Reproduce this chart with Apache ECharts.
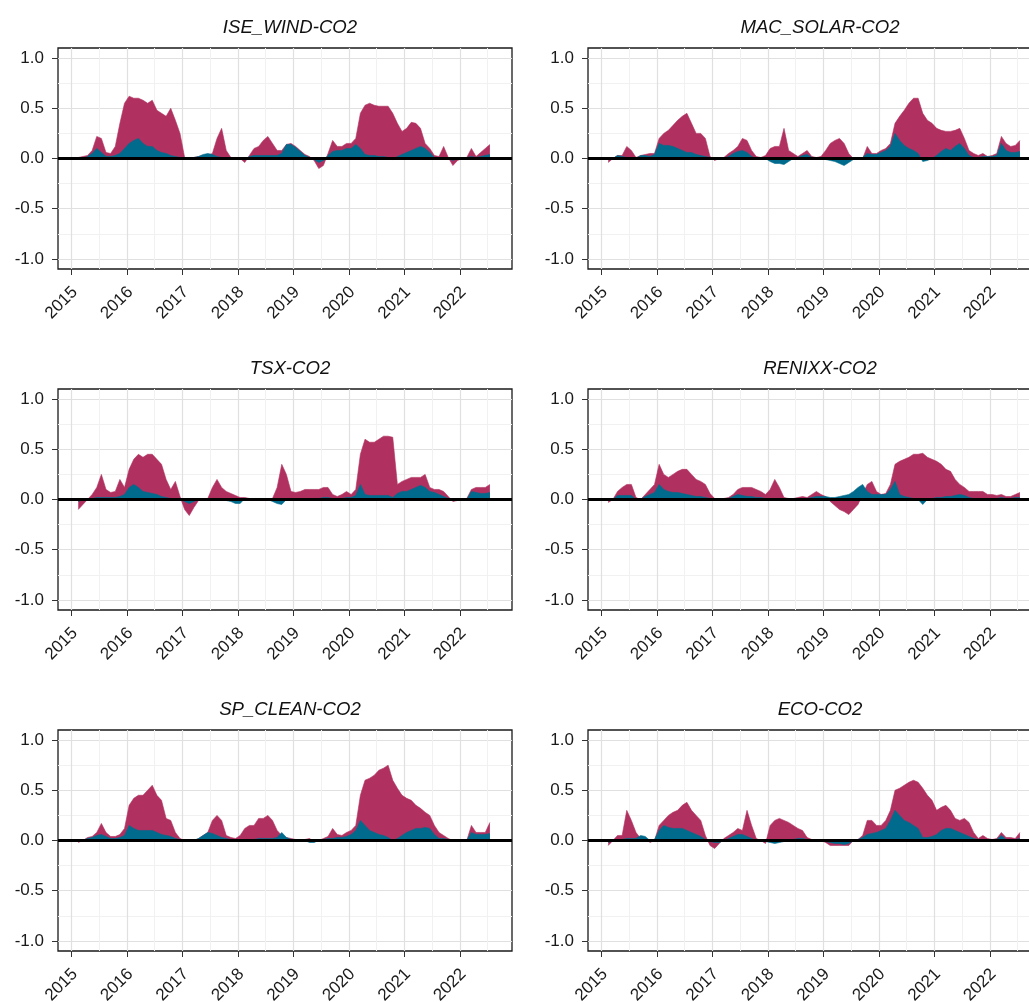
<!DOCTYPE html>
<html><head><meta charset="utf-8">
<script src="https://cdn.jsdelivr.net/npm/echarts@6/dist/echarts.min.js"></script>
<style>html,body{margin:0;padding:0;background:#fff}#c{width:1029px;height:1002px}</style>
</head><body><div id="c"></div>
<script>
// ---------- DATA ----------
const panelTitles = ['ISE_WIND-CO2','MAC_SOLAR-CO2','TSX-CO2','RENIXX-CO2','SP_CLEAN-CO2','ECO-CO2'];
const yearTicks = [2015,2016,2017,2018,2019,2020,2021,2022];
const yTicks = [-1,-0.5,0,0.5,1];
const months = [
 '2015-02','2015-03','2015-04','2015-05','2015-06','2015-07','2015-08','2015-09','2015-10','2015-11','2015-12',
 '2016-01','2016-02','2016-03','2016-04','2016-05','2016-06','2016-07','2016-08','2016-09','2016-10','2016-11','2016-12',
 '2017-01','2017-02','2017-03','2017-04','2017-05','2017-06','2017-07','2017-08','2017-09','2017-10','2017-11','2017-12',
 '2018-01','2018-02','2018-03','2018-04','2018-05','2018-06','2018-07','2018-08','2018-09','2018-10','2018-11','2018-12',
 '2019-01','2019-02','2019-03','2019-04','2019-05','2019-06','2019-07','2019-08','2019-09','2019-10','2019-11','2019-12',
 '2020-01','2020-02','2020-03','2020-04','2020-05','2020-06','2020-07','2020-08','2020-09','2020-10','2020-11','2020-12',
 '2021-01','2021-02','2021-03','2021-04','2021-05','2021-06','2021-07','2021-08','2021-09','2021-10','2021-11','2021-12',
 '2022-01','2022-02','2022-03','2022-04','2022-05','2022-06','2022-07'
];
// red (total) and teal (component) for each panel
const iseWindRed = [
 0.01,0.02,0.03,0.08,0.22,0.2,0.06,0.05,0.12,0.35,0.55,
 0.62,0.6,0.6,0.58,0.55,0.58,0.48,0.45,0.42,0.5,0.38,0.25,
 0.01,0.01,0.01,0.02,0.03,0.03,0.05,0.2,0.3,0.08,0.01,0.01,
 0.0,-0.04,0.03,0.1,0.12,0.18,0.22,0.15,0.08,0.08,0.14,0.15,
 0.12,0.08,0.04,0.02,-0.02,-0.1,-0.07,0.05,0.18,0.12,0.12,0.15,
 0.15,0.2,0.45,0.53,0.55,0.53,0.52,0.52,0.52,0.45,0.35,0.27,
 0.3,0.36,0.35,0.3,0.15,0.1,0.03,0.02,0.12,0.01,-0.07,-0.02,
 0.0,0.01,0.1,0.02,0.06,0.1,0.14];
const iseWindTeal = [
 0.0,-0.01,0.02,0.05,0.1,0.06,0.02,0.02,0.03,0.05,0.1,
 0.15,0.18,0.2,0.15,0.12,0.12,0.08,0.06,0.05,0.03,0.02,0.01,
 0.0,0.01,0.01,0.02,0.04,0.05,0.04,0.02,0.01,0.0,0.0,0.0,
 0.01,-0.01,0.02,0.03,0.03,0.03,0.03,0.03,0.03,0.05,0.14,0.14,
 0.11,0.07,0.03,0.01,-0.01,-0.04,-0.02,0.03,0.07,0.08,0.08,0.1,
 0.1,0.14,0.1,0.04,0.03,0.03,0.02,0.02,0.01,-0.01,0.02,0.04,
 0.06,0.08,0.1,0.12,0.1,0.06,0.01,0.01,0.01,0.0,-0.02,0.0,
 0.0,0.01,0.02,0.01,0.02,0.03,0.04];
const macSolarRed = [
 -0.04,0.0,0.03,0.03,0.12,0.08,0.01,0.03,0.04,0.05,0.05,
 0.2,0.25,0.28,0.33,0.38,0.42,0.45,0.35,0.25,0.25,0.2,0.02,
 -0.02,0.0,0.01,0.05,0.08,0.12,0.2,0.18,0.08,0.02,0.01,0.03,
 0.1,0.12,0.12,0.3,0.08,0.05,0.02,0.05,0.08,0.02,0.01,0.02,
 0.08,0.15,0.18,0.2,0.15,0.05,0.0,-0.01,0.0,0.12,0.05,0.05,
 0.08,0.1,0.15,0.35,0.42,0.48,0.55,0.6,0.6,0.45,0.38,0.35,
 0.3,0.28,0.27,0.27,0.28,0.3,0.2,0.08,0.05,0.03,0.05,0.02,
 0.03,0.05,0.22,0.15,0.12,0.13,0.18];
const macSolarTeal = [
 -0.01,0.0,0.03,0.02,0.01,0.01,0.0,0.03,0.03,0.02,0.04,
 0.15,0.13,0.13,0.12,0.1,0.08,0.06,0.06,0.04,0.03,0.02,0.01,
 0.0,0.0,0.0,0.02,0.05,0.07,0.08,0.06,0.02,0.0,0.0,0.0,
 -0.03,-0.05,-0.05,-0.06,-0.03,0.0,0.01,0.03,0.04,0.01,0.0,0.0,
 -0.01,-0.02,-0.03,-0.05,-0.07,-0.04,-0.01,0.0,0.01,0.05,0.04,0.04,
 0.06,0.08,0.12,0.25,0.18,0.13,0.1,0.08,0.05,-0.03,-0.02,0.0,
 0.03,0.07,0.1,0.08,0.12,0.15,0.1,0.03,0.01,0.01,0.02,0.02,
 0.02,0.03,0.15,0.08,0.06,0.06,0.07];
const tsxRed = [
 -0.1,-0.05,0.0,0.05,0.12,0.25,0.1,0.07,0.08,0.2,0.12,
 0.3,0.4,0.45,0.42,0.45,0.45,0.4,0.35,0.2,0.1,0.18,0.03,
 -0.1,-0.16,-0.08,-0.01,0.0,0.01,0.12,0.2,0.12,0.08,0.06,0.04,
 0.02,0.02,0.01,0.01,0.01,0.01,0.0,0.01,0.12,0.35,0.25,0.08,
 0.07,0.08,0.1,0.1,0.1,0.1,0.12,0.12,0.05,0.03,0.05,0.08,
 0.05,0.1,0.45,0.6,0.57,0.57,0.6,0.63,0.63,0.62,0.15,0.18,
 0.2,0.22,0.22,0.22,0.25,0.12,0.1,0.1,0.08,0.03,-0.02,-0.01,
 0.0,0.01,0.1,0.12,0.12,0.12,0.15];
const tsxTeal = [
 -0.02,0.0,0.0,0.01,0.02,0.02,0.02,0.02,0.02,0.03,0.05,
 0.12,0.15,0.12,0.08,0.07,0.06,0.05,0.03,0.02,0.01,0.0,0.0,
 -0.02,-0.04,-0.02,0.0,0.0,0.0,0.01,0.01,0.0,-0.01,-0.02,-0.04,
 -0.04,0.01,0.01,0.0,0.0,0.0,0.0,-0.02,-0.04,-0.05,0.0,0.01,
 0.0,0.0,0.0,-0.01,0.01,0.01,0.02,0.02,0.01,0.01,0.01,0.02,
 0.02,0.04,0.15,0.05,0.04,0.04,0.04,0.04,0.04,0.02,0.06,0.08,
 0.08,0.1,0.12,0.14,0.12,0.08,0.07,0.05,0.03,0.01,0.0,0.0,
 0.0,0.0,0.08,0.07,0.06,0.06,0.07];
const renixxRed = [
 -0.03,0.0,0.08,0.12,0.15,0.15,0.02,0.0,0.05,0.1,0.15,
 0.35,0.25,0.22,0.25,0.28,0.3,0.3,0.25,0.2,0.18,0.15,0.06,
 0.01,0.0,0.01,0.02,0.05,0.1,0.12,0.12,0.12,0.1,0.08,0.05,
 0.1,0.2,0.12,0.02,0.01,0.01,0.02,0.03,0.02,0.05,0.08,0.05,
 0.03,-0.02,-0.06,-0.1,-0.12,-0.15,-0.1,-0.05,0.05,0.15,0.18,0.08,
 0.05,0.06,0.15,0.35,0.38,0.4,0.42,0.45,0.45,0.46,0.42,0.4,
 0.38,0.35,0.3,0.28,0.2,0.15,0.12,0.08,0.08,0.08,0.08,0.05,
 0.05,0.04,0.05,0.03,0.03,0.05,0.07];
const renixxTeal = [
 -0.01,0.0,0.04,0.04,0.04,0.04,0.0,0.0,0.03,0.05,0.07,
 0.15,0.1,0.08,0.07,0.07,0.06,0.05,0.04,0.03,0.03,0.02,0.01,
 0.0,0.0,0.01,0.01,0.03,0.05,0.04,0.03,0.03,0.02,0.02,0.01,
 0.0,0.0,-0.01,0.0,0.0,0.0,0.0,0.01,0.01,0.02,0.03,0.03,
 0.03,0.02,0.02,0.03,0.04,0.05,0.08,0.12,0.15,0.08,0.05,0.05,
 0.05,0.05,0.1,0.18,0.05,0.03,0.02,0.01,0.0,-0.05,0.0,0.01,
 0.02,0.02,0.03,0.03,0.04,0.05,0.04,0.02,0.01,0.01,0.01,0.01,
 0.01,0.01,0.02,0.01,0.01,0.02,0.02];
const spCleanRed = [
 -0.02,0.0,0.03,0.04,0.08,0.17,0.08,0.04,0.04,0.06,0.12,
 0.35,0.42,0.45,0.45,0.5,0.55,0.45,0.4,0.22,0.2,0.08,0.02,
 0.0,0.0,0.0,0.02,0.05,0.08,0.2,0.25,0.2,0.05,0.03,0.02,
 0.05,0.12,0.15,0.15,0.22,0.22,0.25,0.2,0.1,0.05,0.03,0.02,
 0.01,0.0,0.01,0.02,-0.01,0.0,0.02,0.04,0.12,0.06,0.05,0.08,
 0.1,0.15,0.45,0.6,0.62,0.65,0.7,0.72,0.75,0.6,0.52,0.45,
 0.42,0.4,0.35,0.32,0.28,0.25,0.15,0.08,0.05,0.02,0.0,0.0,
 0.0,0.0,0.15,0.08,0.08,0.08,0.18];
const spCleanTeal = [
 -0.01,0.0,0.02,0.03,0.05,0.06,0.04,0.02,0.02,0.03,0.05,
 0.15,0.12,0.1,0.1,0.1,0.1,0.08,0.06,0.05,0.04,0.02,0.01,
 0.0,0.0,0.0,0.02,0.05,0.08,0.07,0.05,0.03,0.02,0.01,0.01,
 -0.01,0.01,0.01,0.01,0.02,0.02,0.02,0.02,0.03,0.08,0.03,0.01,
 0.0,0.0,0.0,-0.02,-0.02,0.0,0.01,0.02,0.02,0.03,0.03,0.04,
 0.06,0.1,0.2,0.15,0.1,0.08,0.06,0.05,0.03,0.0,0.02,0.05,
 0.08,0.1,0.12,0.12,0.13,0.12,0.06,0.02,0.02,0.01,0.0,0.0,
 0.0,0.0,0.08,0.06,0.06,0.06,0.07];
const ecoRed = [
 -0.05,0.0,0.05,0.05,0.3,0.2,0.08,0.02,0.03,-0.02,0.0,
 0.15,0.2,0.25,0.28,0.3,0.35,0.38,0.3,0.25,0.2,0.05,-0.05,
 -0.08,-0.03,0.02,0.05,0.08,0.12,0.1,0.3,0.15,0.02,0.0,-0.03,
 0.15,0.2,0.22,0.2,0.18,0.15,0.12,0.1,0.03,0.01,0.0,0.0,
 -0.02,-0.05,-0.05,-0.05,-0.05,-0.05,0.0,0.01,0.05,0.2,0.2,0.15,
 0.15,0.2,0.3,0.5,0.52,0.55,0.58,0.6,0.58,0.52,0.45,0.4,
 0.3,0.33,0.35,0.3,0.22,0.2,0.22,0.18,0.08,0.02,0.05,0.02,
 0.01,0.02,0.08,0.03,0.03,0.02,0.08];
const ecoTeal = [
 -0.02,0.0,0.01,0.01,0.02,0.02,0.02,0.05,0.04,0.0,0.01,
 0.1,0.15,0.13,0.12,0.12,0.12,0.1,0.08,0.06,0.04,0.01,-0.01,
 -0.02,-0.02,0.0,0.02,0.04,0.06,0.06,0.04,0.02,0.0,0.0,-0.01,
 -0.02,-0.03,-0.02,-0.01,0.0,0.01,0.02,0.02,0.01,0.0,0.0,0.0,
 -0.01,-0.02,-0.03,-0.03,-0.04,-0.03,0.0,0.01,0.03,0.06,0.07,0.08,
 0.1,0.12,0.2,0.3,0.25,0.2,0.18,0.15,0.12,0.03,0.03,0.04,
 0.06,0.1,0.12,0.12,0.1,0.08,0.06,0.04,0.02,0.01,0.01,0.01,
 0.0,0.01,0.05,0.01,0.01,0.01,0.02];

const panelRed = [iseWindRed, macSolarRed, tsxRed, renixxRed, spCleanRed, ecoRed];
const panelTeal = [iseWindTeal, macSolarTeal, tsxTeal, renixxTeal, spCleanTeal, ecoTeal];

// ---------- CHART ----------
const RED = '#b03060', TEAL = '#006b8c';
const FONT = 'Liberation Sans, Arial, sans-serif';
const gLeft = [58, 588], gTop = [48, 389, 730], gW = 454, gH = 221;
const tCenter = [285, 815], tTop = [13, 354, 695];
const xMin = 2014.76, xMax = 2022.94, yMin = -1.1, yMax = 1.1;
const minorX = [2015.5,2016.5,2017.5,2018.5,2019.5,2020.5,2021.5,2022.5];
const minorY = [-0.75,-0.25,0.25,0.75];
const xs = months.map(s => { const [y, m] = s.split('-').map(Number); return y + (m - 0.5) / 12; });

const grids = [], xAxes = [], yAxes = [], series = [], titles = [];
for (let p = 0; p < 6; p++) {
  const col = p % 2, row = Math.floor(p / 2);
  grids.push({left: gLeft[col], top: gTop[row], width: gW, height: gH, show: true,
    borderColor: '#1a1a1a', borderWidth: 1.3, backgroundColor: 'transparent',
    containLabel: false, outerBoundsMode: 'none'});
  titles.push({text: panelTitles[p], left: tCenter[col], top: tTop[row], textAlign: 'center',
    textStyle: {fontFamily: FONT, fontSize: 18.6, fontStyle: 'italic', fontWeight: 'normal', color: '#111'}});
  // major x
  xAxes.push({type: 'value', gridIndex: p, min: xMin, max: xMax, position: 'bottom',
    axisLine: {show: false, onZero: false},
    axisTick: {show: true, customValues: yearTicks, length: 6, lineStyle: {color: '#333', width: 1}},
    axisLabel: {show: true, customValues: yearTicks, rotate: 45, margin: 24, fontSize: 17,
      padding: [0, -5, 0, 0],
      fontFamily: FONT, color: '#1a1a1a', formatter: v => String(Math.round(v))},
    splitLine: {show: true, lineStyle: {color: '#e0e0e0', width: 1.2}}});
  // minor x
  xAxes.push({type: 'value', gridIndex: p, min: xMin, max: xMax, position: 'top',
    axisLine: {show: false, onZero: false}, axisTick: {show: false, customValues: minorX},
    axisLabel: {show: false, customValues: minorX},
    splitLine: {show: true, lineStyle: {color: '#f1f1f1', width: 1}}});
  yAxes.push({type: 'value', gridIndex: p, min: yMin, max: yMax, position: 'left',
    axisLine: {show: false, onZero: false},
    axisTick: {show: true, customValues: yTicks, length: 6, lineStyle: {color: '#333', width: 1}},
    axisLabel: {show: true, customValues: yTicks, margin: 14, fontSize: 17, fontFamily: FONT,
      color: '#1a1a1a', formatter: v => v.toFixed(1)},
    splitLine: {show: true, lineStyle: {color: '#e0e0e0', width: 1.2}}});
  yAxes.push({type: 'value', gridIndex: p, min: yMin, max: yMax, position: 'right',
    axisLine: {show: false, onZero: false}, axisTick: {show: false, customValues: minorY},
    axisLabel: {show: false, customValues: minorY},
    splitLine: {show: true, lineStyle: {color: '#f1f1f1', width: 1}}});
  series.push({type: 'line', name: panelTitles[p] + ' total', xAxisIndex: 2 * p, yAxisIndex: 2 * p,
    data: xs.map((x, i) => [x, panelRed[p][i]]), showSymbol: false, symbol: 'none', z: 2,
    lineStyle: {color: RED, width: 0.6}, areaStyle: {color: RED, opacity: 1, origin: 0}, silent: true});
  series.push({type: 'line', name: panelTitles[p] + ' part', xAxisIndex: 2 * p, yAxisIndex: 2 * p,
    data: xs.map((x, i) => [x, panelTeal[p][i]]), showSymbol: false, symbol: 'none', z: 3,
    lineStyle: {color: TEAL, width: 0.6}, areaStyle: {color: TEAL, opacity: 1, origin: 0}, silent: true,
    markLine: {silent: true, symbol: ['none', 'none'], label: {show: false}, animation: false,
      lineStyle: {color: '#000', width: 2.9, type: 'solid'}, data: [{yAxis: 0}]}});
}

const chart = echarts.init(document.getElementById('c'), null, {renderer: 'canvas'});
chart.setOption({animation: false, backgroundColor: '#fff', title: titles, grid: grids,
  xAxis: xAxes, yAxis: yAxes, series: series});
</script></body></html>
